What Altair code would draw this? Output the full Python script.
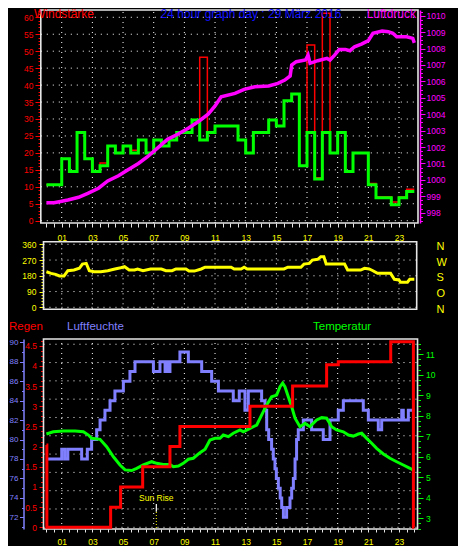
import altair as alt
import pandas as pd

FONT = "Liberation Sans"
RED = "#ff0000"
GREEN = "#00ff00"
MAGENTA = "#ff00ff"
YELLOW = "#ffff00"
HUMC = "#8080ff"
TITLEC = "#1010ff"
FRAME = "#e6e6e6"
GRIDC = "#ffffff"

TITLE = "24 hour graph day : 29 März 2016"

# ---------------- data ----------------
HALF_HOURS = [0.0, 0.5, 1.0, 1.5, 2.0, 2.5, 3.0, 3.5, 4.0, 4.5, 5.0, 5.5, 6.0, 6.5, 7.0, 7.5,
              8.0, 8.5, 9.0, 9.5, 10.0, 10.5, 11.0, 11.5, 12.0, 12.5, 13.0, 13.5, 14.0, 14.5,
              15.0, 15.5, 16.0, 16.5, 17.0, 17.5, 18.0, 18.5, 19.0, 19.5, 20.0, 20.5, 21.0,
              21.5, 22.0, 22.5, 23.0, 23.5, 24.0]
WIND_AVG = [10.6, 10.6, 18.3, 14.5, 26.0, 18.3, 14.5, 16.2, 22.0, 20.0,
            22.0, 20.0, 23.8, 20.0, 23.8, 22.0, 23.8, 26.0, 26.0, 29.7,
            23.8, 26.0, 27.9, 27.9, 27.9, 23.8, 20.0, 26.0, 26.0, 29.7,
            27.9, 35.4, 37.4, 16.2, 26.0, 12.3, 26.0, 20.0, 26.0, 14.5,
            20.0, 20.0, 10.6, 6.8, 6.8, 4.7, 6.8, 8.6, 8.6]
WIND_GUST = [10.6, 10.6, 18.3, 14.5, 26.0, 18.3, 14.5, 17.0, 22.0, 20.0,
             22.0, 20.8, 23.8, 20.0, 23.8, 22.0, 23.8, 26.0, 26.0, 29.7,
             48.2, 26.0, 27.9, 27.9, 27.9, 23.8, 20.0, 26.0, 26.0, 29.7,
             27.9, 35.4, 37.4, 16.2, 51.8, 12.7, 61.2, 20.0, 26.0, 14.5,
             20.0, 20.0, 11.0, 7.1, 7.1, 5.5, 7.1, 9.3, 9.3]

PRES_HOURS = [0.0, 0.5, 1.0, 1.4, 2.1, 2.7, 3.4, 4.0, 4.7, 5.3, 6.0, 6.6, 7.3, 7.9, 8.6, 9.25,
              9.9, 10.55, 11.0, 11.4, 12.3, 12.9, 13.6, 14.5, 15.1, 15.55, 15.9, 16.0, 16.3,
              16.9, 17.07, 17.2, 17.7, 18.3, 18.5, 18.8, 19.1, 19.5, 19.8, 20.1, 20.55, 21.0,
              21.3, 21.9, 22.3, 22.6, 22.85, 23.5, 23.9, 24.0]
PRES_HPA = [998.6, 998.6, 998.7, 998.77, 998.94, 999.18, 999.49, 999.93, 1000.25, 1000.6,
            1001.0, 1001.41, 1001.98, 1002.47, 1002.79, 1003.14, 1003.54, 1004.0, 1004.5,
            1005.06, 1005.27, 1005.51, 1005.67, 1005.72, 1005.88, 1006.08, 1006.33, 1007.0,
            1007.2, 1007.3, 1007.6, 1007.1, 1007.26, 1007.4, 1007.3, 1007.6, 1007.95, 1007.95,
            1007.87, 1008.11, 1008.27, 1008.48, 1008.93, 1009.07, 1009.03, 1008.93, 1008.72,
            1008.72, 1008.62, 1008.35]

DIR_HOURS = [0.0, 0.3, 0.6, 0.85, 1.15, 1.4, 1.8, 2.15, 2.35, 2.6, 2.8, 3.1, 3.55, 4.0, 4.4,
             4.85, 5.1, 5.4, 5.75, 5.95, 6.3, 6.8, 7.5, 7.8, 8.2, 8.45, 9.1, 9.3, 9.65, 10.1,
             10.35, 12.05, 12.25, 12.7, 12.9, 13.1, 15.5, 15.75, 16.6, 16.8, 17.15, 17.35,
             17.7, 17.9, 18.1, 18.25, 19.45, 19.65, 20.5, 20.75, 21.05, 21.3, 21.6, 22.45,
             22.7, 23.0, 23.1, 23.55, 23.7, 24.0]
DIR_DEG = [203, 194, 188, 179, 179, 209, 213, 223, 247, 251, 209, 203, 203, 209, 217,
           226, 232, 213, 213, 219, 209, 219, 219, 209, 209, 219, 219, 207, 207, 219,
           229, 229, 219, 219, 229, 219, 219, 229, 229, 247, 251, 270,
           274, 289, 289, 247, 247, 213, 213, 223, 219, 209, 194, 194,
           160, 156, 143, 143, 160, 160]

HUM_HOURS = [0.0, 1.0, 1.2, 1.4, 2.3, 2.67, 2.95, 3.28, 3.5, 3.82, 4.15, 4.47, 5.02, 5.45,
             5.78, 6.98, 7.41, 7.74, 7.8, 7.86, 7.92, 7.98, 8.06, 8.71, 9.26, 10.13, 10.78,
             11.22, 12.19, 12.58, 12.95, 13.17, 14.04, 14.26, 14.37, 14.5, 14.69, 14.8,
             14.91, 15.0, 15.13, 15.25, 15.35, 15.46, 15.67, 15.89, 16.0, 16.11, 16.22,
             16.32, 16.43, 16.76, 17.3, 18.06, 18.5, 19.04, 19.37, 20.67, 21.0, 21.65,
             21.87, 23.18, 23.28, 23.61, 24.0]
HUM_PCT = [78, 79, 78, 79, 78, 79, 80, 81, 82, 83, 84, 85, 86, 87,
           88, 87, 88, 87, 88, 87, 88, 87, 88, 89, 88, 87, 86,
           85, 84, 85, 83, 85, 84, 83, 81, 80, 79, 78,
           77, 76, 75, 74, 73, 72, 73, 74, 75, 76, 78,
           80, 81, 82, 81, 80, 82, 83, 84, 83, 82, 81,
           82, 83, 82, 83, 83]

RAIN_HOURS = [0.0, 0.03, 4.19, 4.84, 6.28, 8.06, 8.71, 13.28, 16.06, 18.28, 19.04, 22.46, 23.94, 24.0]
RAIN_MM = [2.04, 0.0, 0.5, 1.0, 1.5, 2.0, 2.5, 3.0, 3.5, 4.03, 4.1, 4.6, 0.0, 0.0]

TEMP_HOURS = [0.0, 0.45, 1.1, 1.87, 2.41, 2.74, 2.95, 3.5, 3.93, 4.37, 4.8, 5.13, 5.56, 5.89,
              6.32, 6.87, 7.19, 7.63, 8.06, 8.28, 8.61, 8.93, 9.26, 9.58, 10.02, 10.35, 10.67,
              11.0, 11.32, 11.54, 11.87, 12.19, 12.63, 12.85, 13.28, 13.72, 14.15, 14.37,
              14.69, 15.02, 15.24, 15.41, 15.56, 15.78, 16.0, 16.22, 16.54, 16.87, 17.19,
              17.63, 17.96, 18.28, 18.61, 18.93, 19.37, 19.7, 20.02, 20.35, 20.57, 20.89,
              21.22, 21.54, 21.98, 22.41, 22.85, 23.28, 23.72, 24.0]
TEMP_C = [7.11, 7.22, 7.26, 7.26, 7.22, 7.06, 6.9, 6.85, 6.49, 6.0, 5.6, 5.36, 5.33, 5.44,
          5.6, 5.76, 5.68, 5.63, 5.63, 5.52, 5.55, 5.68, 5.88, 5.93, 6.2, 6.37, 6.82,
          6.9, 6.9, 7.06, 6.98, 7.15, 7.31, 7.22, 7.39, 7.55, 8.2, 8.53,
          8.93, 9.01, 9.42, 9.59, 9.42, 8.93, 8.44, 7.88, 7.47, 7.63, 7.47,
          7.8, 7.91, 7.88, 7.47, 7.31, 7.22, 7.06, 7.01, 7.11, 7.15, 6.9,
          6.66, 6.41, 6.14, 5.93, 5.76, 5.6, 5.44, 5.32]

ODD_HOURS = [1, 3, 5, 7, 9, 11, 13, 15, 17, 19, 21, 23]
SUNRISE_HOUR = 7.17

WIND_TICKS = [0, 5, 10, 15, 20, 25, 30, 35, 40, 45, 50, 55, 60]
PRES_TICKS = [998, 999, 1000, 1001, 1002, 1003, 1004, 1005, 1006, 1007, 1008, 1009, 1010]
DIR_TICKS = [0, 90, 180, 270, 360]
HUM_TICKS = [72, 74, 76, 78, 80, 82, 84, 86, 88, 90]
RAIN_TICKS = [0, 0.5, 1, 1.5, 2, 2.5, 3, 3.5, 4, 4.5]
TEMP_TICKS = [3, 4, 5, 6, 7, 8, 9, 10, 11]

# ---------------- frames ----------------
wind_df = pd.DataFrame({"hour": HALF_HOURS, "avg": WIND_AVG, "gust": WIND_GUST})
pres_df = pd.DataFrame({"hour": PRES_HOURS, "hpa": PRES_HPA})
dir_df = pd.DataFrame({"hour": DIR_HOURS, "deg": DIR_DEG})
hum_df = pd.DataFrame({"hour": HUM_HOURS, "pct": HUM_PCT})
rain_df = pd.DataFrame({"hour": RAIN_HOURS, "mm": RAIN_MM})
temp_df = pd.DataFrame({"hour": TEMP_HOURS, "c": TEMP_C})
odd_df = pd.DataFrame({"hour": ODD_HOURS})
one = pd.DataFrame({"k": [0]})

xs = alt.Scale(domain=[-0.4175, 24.24], nice=False, zero=False)


def ysc(lo, hi, rng):
    return alt.Scale(domain=[lo, hi], range=rng, nice=False, zero=False)


R1 = [213, 0]
R2 = [299.3, 231.7]
R3 = [519, 329]
WIND_SC = ysc(-0.68, 62.15, R1)
PRES_SC = ysc(997.37, 1010.35, R1)
DIR_SC = ysc(-11.4, 374.9, R2)
HUM_SC = ysc(70.8, 90.34, R3)
RAIN_SC = ysc(-0.042, 4.666, R3)
TEMP_SC = ysc(2.478, 11.746, R3)

P1 = dict(x=(-0.365, 24.24), y=(-0.68, 62.15), sc=WIND_SC)
P2 = dict(x=(-0.19, 24.155), y=(-11.4, 374.9), sc=DIR_SC)
P3 = dict(x=(-0.19, 24.21), y=(2.478, 11.746), sc=TEMP_SC)


def xq(field="hour", axis=None):
    return alt.X(f"{field}:Q", scale=xs, axis=axis)


def frame(p):
    return alt.Chart(one).mark_rect(fillOpacity=0, stroke=FRAME, strokeWidth=1.6).encode(
        x=alt.XDatum(datum=p["x"][0], scale=xs, axis=None),
        x2=alt.X2Datum(datum=p["x"][1]),
        y=alt.YDatum(datum=p["y"][0], scale=p["sc"], axis=None),
        y2=alt.Y2Datum(datum=p["y"][1]),
    )


def vgrid(p):
    return alt.Chart(odd_df).mark_rule(color=GRIDC, strokeWidth=1, strokeDash=[1, 4]).encode(
        x=xq(),
        y=alt.YDatum(datum=p["y"][0], scale=p["sc"], axis=None),
        y2=alt.Y2Datum(datum=p["y"][1]),
    )


def hgrid(p, vals, sc):
    df = pd.DataFrame({"v": vals})
    return alt.Chart(df).mark_rule(color=GRIDC, strokeWidth=1, strokeDash=[1, 5]).encode(
        y=alt.Y("v:Q", scale=sc, axis=None),
        x=alt.XDatum(datum=p["x"][0], scale=xs, axis=None),
        x2=alt.X2Datum(datum=p["x"][1]),
    )


def yaxis(orient, values, color, offset, size, labels=True, expr=None, padding=2,
          domain=False, fs=8.5):
    kw = dict(orient=orient, values=values, offset=offset, title=None, grid=False,
              domain=domain, domainColor=color, domainWidth=1.5, tickColor=color,
              tickSize=size, tickWidth=1, labels=labels, labelColor=color,
              labelFont=FONT, labelFontSize=fs, labelPadding=padding,
              labelOverlap=False, labelFlush=False)
    if expr is not None:
        kw["labelExpr"] = expr
    return alt.Axis(**kw)


def ghost(df, field, sc, axis):
    return alt.Chart(df).mark_line(opacity=0).encode(
        x=xq(), y=alt.Y(f"{field}:Q", scale=sc, axis=axis))


def steps(lo, hi, step):
    out = []
    v = lo
    while v <= hi + 1e-9:
        out.append(round(v, 4))
        v += step
    return out


GE = "format(datum.value, '~g')"

# axes
wind_axis = yaxis("left", WIND_TICKS, RED, 0, 5, expr=GE, padding=2)
wind_minor = yaxis("left", steps(0, 62, 1), RED, 0, 2, labels=False)
pres_axis = yaxis("right", PRES_TICKS, MAGENTA, 2, 5, expr="format(datum.value, 'd')",
                  padding=1, domain=True)
pres_minor = yaxis("right", steps(997.5, 1010.25, 0.25), MAGENTA, 2, 2.5, labels=False)
dir_axis = yaxis("left", DIR_TICKS, YELLOW, -3, 4, expr=GE, padding=3)
dir_minor = yaxis("left", steps(0, 360, 18), YELLOW, -3, 2, labels=False)
dir_letters = alt.Axis(orient="right", values=DIR_TICKS, offset=0, title=None, grid=False,
                       domain=False, ticks=False, labelPadding=18, labelColor=YELLOW,
                       labelFont=FONT, labelFontSize=11, labelOffset=2, labelOverlap=False,
                       labelFlush=False,
                       labelExpr="datum.value == 90 ? 'O' : datum.value == 180 ? 'S' : datum.value == 270 ? 'W' : 'N'")
hum_axis = yaxis("left", HUM_TICKS, HUMC, 16.5, 4, expr=GE, padding=1.5, domain=True, fs=8)
hum_minor = yaxis("left", steps(71, 90, 1), HUMC, 16.5, 2, labels=False)
rain_axis = yaxis("left", RAIN_TICKS, RED, -2.5, 3.5, expr=GE, padding=2.5)
rain_minor = yaxis("left", steps(0, 4.625, 0.125), RED, -2.5, 2, labels=False)
temp_axis = yaxis("right", TEMP_TICKS, GREEN, 0, 5, expr=GE, padding=2.5)
temp_minor = yaxis("right", steps(2.5, 11.75, 0.25), GREEN, 0, 2.5, labels=False)

HOUR_EXPR = ("(datum.value % 2 == 1) ? ((datum.value < 10 ? '0' : '') + "
             "format(datum.value, 'd')) : ''")


def xaxis(offset, size, padding):
    return alt.Axis(orient="bottom", values=HALF_HOURS, offset=offset, title=None,
                    grid=False, domain=False, tickColor=FRAME, tickSize=size,
                    tickWidth=1, labelColor=YELLOW, labelFont=FONT, labelFontSize=8.5,
                    labelPadding=padding, labelExpr=HOUR_EXPR, labelOverlap=False,
                    labelFlush=False)


# ---------------- layers ----------------
layers = [
    frame(P1), frame(P2), frame(P3),
    vgrid(P1), vgrid(P2), vgrid(P3),
    hgrid(P1, WIND_TICKS, WIND_SC),
    hgrid(P2, DIR_TICKS, DIR_SC),
    hgrid(P3, [round(k * 0.4536, 4) for k in range(11)], RAIN_SC),
]

# panel 1: wind + pressure
layers += [
    alt.Chart(wind_df).mark_line(interpolate="step-after", color=RED, strokeWidth=1.5).encode(
        x=xq(), y=alt.Y("gust:Q", scale=WIND_SC, axis=wind_axis)),
    ghost(wind_df, "gust", WIND_SC, wind_minor),
    alt.Chart(wind_df).mark_line(interpolate="step-after", color=GREEN, strokeWidth=3).encode(
        x=xq(axis=xaxis(-306, 4, 6)), y=alt.Y("avg:Q", scale=WIND_SC, axis=None)),
    alt.Chart(pres_df).mark_line(color=MAGENTA, strokeWidth=3.5).encode(
        x=xq(), y=alt.Y("hpa:Q", scale=PRES_SC, axis=pres_axis)),
    ghost(pres_df, "hpa", PRES_SC, pres_minor),
]

# panel 2: wind direction
layers += [
    alt.Chart(dir_df).mark_line(color=YELLOW, strokeWidth=3).encode(
        x=xq(), y=alt.Y("deg:Q", scale=DIR_SC, axis=dir_axis)),
    ghost(dir_df, "deg", DIR_SC, dir_minor),
    ghost(dir_df, "deg", DIR_SC, dir_letters),
]

# panel 3: humidity, temperature, rain
layers += [
    alt.Chart(hum_df).mark_line(interpolate="step-after", color=HUMC, strokeWidth=3).encode(
        x=xq(), y=alt.Y("pct:Q", scale=HUM_SC, axis=hum_axis)),
    ghost(hum_df, "pct", HUM_SC, hum_minor),
    alt.Chart(temp_df).mark_line(color=GREEN, strokeWidth=3).encode(
        x=xq(axis=xaxis(0, 3, 5)), y=alt.Y("c:Q", scale=TEMP_SC, axis=temp_axis)),
    ghost(temp_df, "c", TEMP_SC, temp_minor),
    alt.Chart(rain_df).mark_line(interpolate="step-after", color=RED, strokeWidth=3).encode(
        x=xq(), y=alt.Y("mm:Q", scale=RAIN_SC, axis=rain_axis)),
    ghost(rain_df, "mm", RAIN_SC, rain_minor),
]

# sunrise marker
sun_df = pd.DataFrame({"hour": [SUNRISE_HOUR], "label": ["Sun Rise"]})
layers += [
    alt.Chart(sun_df).mark_rule(color="#ffffff", strokeWidth=1.2).encode(
        x=xq(), y=alt.value(494), y2=alt.value(501.7)),
    alt.Chart(sun_df).mark_rule(color=YELLOW, strokeWidth=1, strokeDash=[1, 2]).encode(
        x=xq(), y=alt.value(502), y2=alt.value(519)),
    alt.Chart(sun_df).mark_text(color=YELLOW, font=FONT, fontSize=8.5, baseline="middle",
                                align="center").encode(
        x=xq(), y=alt.value(487.7), text="label:N"),
]


def label(text, x, y, color, size, align="left", baseline="middle"):
    return alt.Chart(pd.DataFrame({"t": [text]})).mark_text(
        align=align, baseline=baseline, color=color, font=FONT, fontSize=size).encode(
        x=alt.value(x), y=alt.value(y), text="t:N")


layers += [
    label("Windstärke", -6, -1, RED, 12, baseline="top"),
    label(TITLE, 211, -1, TITLEC, 12, align="center", baseline="top"),
    label("Luftdruck", 376, -1, MAGENTA, 12, align="right", baseline="top"),
    label("Regen", -31, 317, RED, 11.5),
    label("Luftfeuchte", 27, 317, HUMC, 11.5),
    label("Temperatur", 273, 317, GREEN, 11.5),
]

chart = alt.layer(*layers).resolve_scale(y="independent").resolve_axis(
    x="independent", y="independent"
).properties(
    width=378, height=519,
    padding={"left": 32, "top": 2, "right": 40, "bottom": 17},
    autosize=alt.AutoSizeParams(type="none"),
).configure(background="#000000").configure_view(strokeWidth=0)

chart.save("out.html", embed_options={"renderer": "svg", "actions": False})
